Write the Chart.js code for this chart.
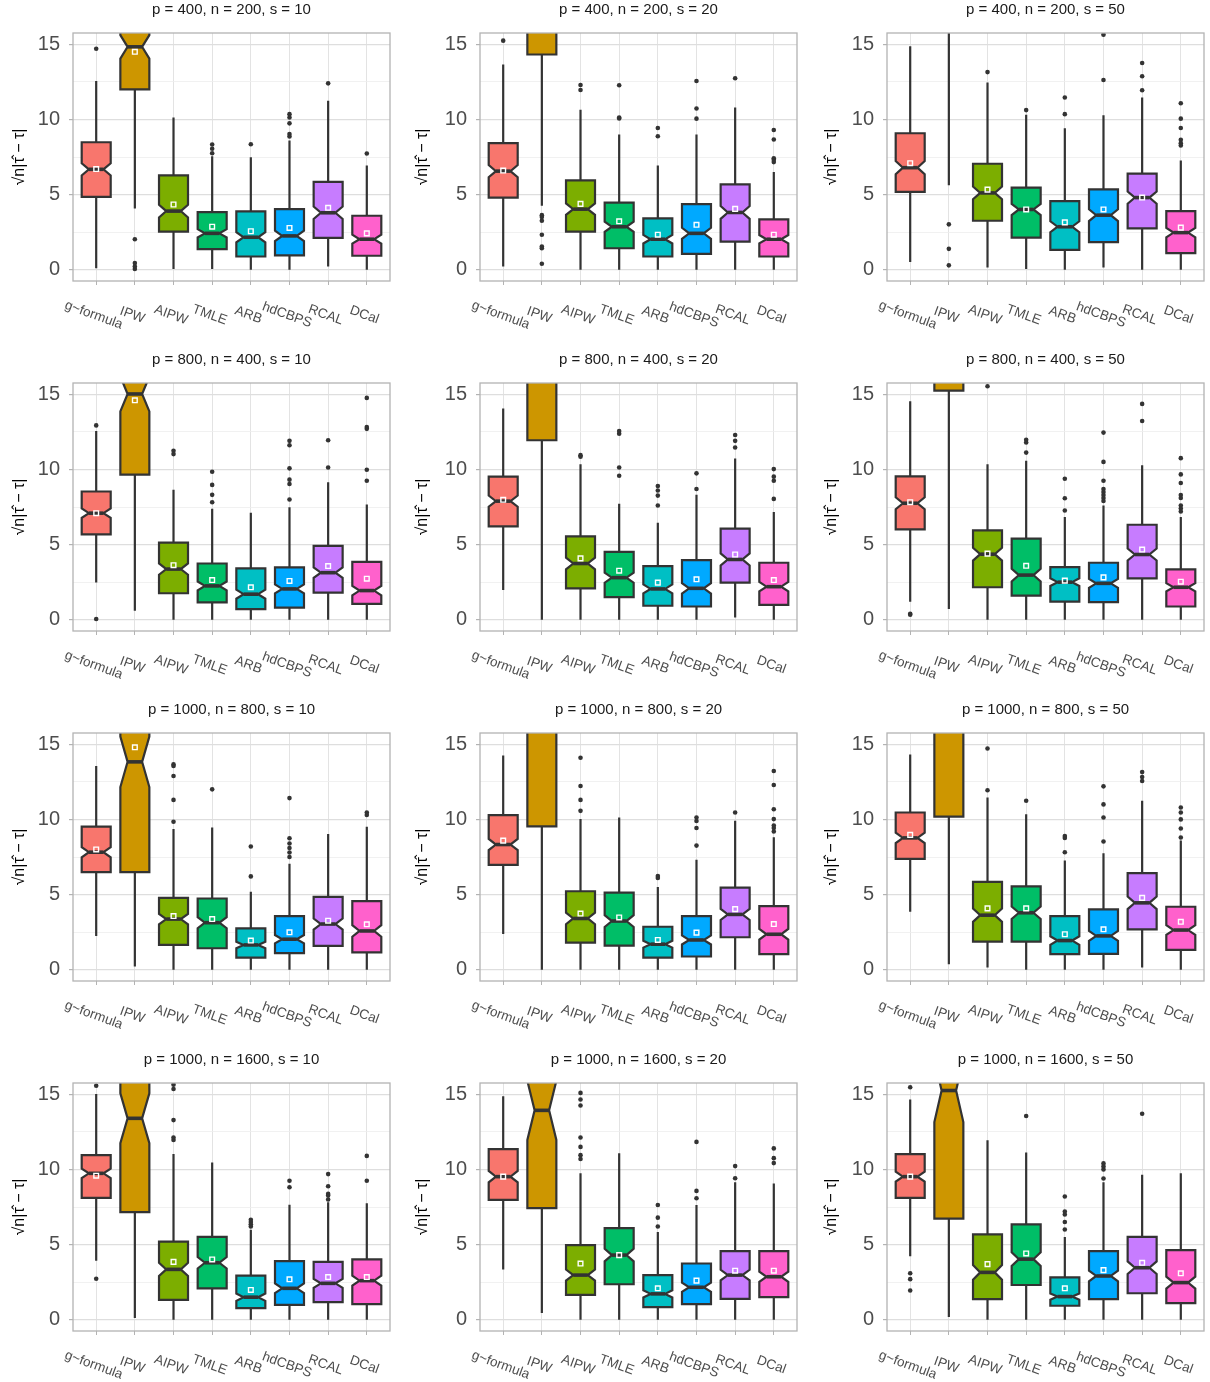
<!DOCTYPE html>
<html>
<head>
<meta charset="utf-8">
<script src="https://cdn.jsdelivr.net/npm/chart.js@4.4.0/dist/chart.umd.min.js"></script>
<style>
  body { margin: 0; background: #fff; overflow: hidden; width: 1210px; height: 1382px; position: relative; }
  canvas { position: absolute; }
</style>
</head>
<body>
<script>
// methods along the x axis of every panel
const methods = ["g~formula", "IPW", "AIPW", "TMLE", "ARB", "hdCBPS", "RCAL", "DCal"];
const colors = ["#F8766D", "#CD9600", "#7CAE00", "#00BE67", "#00BFC4", "#00A9FF", "#C77CFF", "#FF61CC"];

const panelTitles = [
  "p = 400, n = 200, s = 10", "p = 400, n = 200, s = 20", "p = 400, n = 200, s = 50",
  "p = 800, n = 400, s = 10", "p = 800, n = 400, s = 20", "p = 800, n = 400, s = 50",
  "p = 1000, n = 800, s = 10", "p = 1000, n = 800, s = 20", "p = 1000, n = 800, s = 50",
  "p = 1000, n = 1600, s = 10", "p = 1000, n = 1600, s = 20", "p = 1000, n = 1600, s = 50"
];

const yTicks = [0, 5, 10, 15];

// box statistics, one row per panel, one value per method
const whiskerLow = [
  [0.1, 4.08, 0.05, 0.05, 0, 0, 0.22, 0],
  [0.22, 4.25, 0, 0, 0, 0, 0, 0],
  [0.51, 5.62, 0.15, 0.05, 0, 0.15, 0, 0],
  [2.47, 0.59, 0, 0, 0, 0, 0, 0],
  [1.98, 0, 0, 0, 0, 0, 0.15, 0],
  [1.2, 0.71, 0, 0, 0, 0, 0, 0],
  [2.25, 0.22, 0, 0, 0, 0, 0, 0],
  [2.38, 0, 0, 0, 0, 0, 0, 0],
  [3.85, 0.37, 0.15, 0, 0, 0, 0.15, 0],
  [3.92, 0.11, 0, 0, 0, 0, 0, 0],
  [3.35, 0.44, 0, 0, 0, 0, 0, 0],
  [4.23, 0.18, 0, 0, 0, 0, 0, 0]
];
const q1 = [
  [4.85, 12.0, 2.53, 1.37, 0.88, 0.95, 2.12, 0.93],
  [4.8, 14.32, 2.53, 1.43, 0.88, 1.06, 1.87, 0.88],
  [5.18, 17, 3.26, 2.14, 1.32, 1.83, 2.75, 1.1],
  [5.68, 9.65, 1.76, 1.15, 0.71, 0.81, 1.8, 1.06],
  [6.21, 11.94, 2.09, 1.5, 0.93, 0.88, 2.47, 0.99],
  [6.01, 15.24, 2.16, 1.61, 1.21, 1.17, 2.75, 0.88],
  [6.5, 6.5, 1.65, 1.43, 0.81, 1.1, 1.59, 1.15],
  [6.98, 9.54, 1.8, 1.61, 0.81, 0.88, 2.16, 1.04],
  [7.38, 10.18, 1.87, 1.87, 1.04, 1.06, 2.69, 1.32],
  [8.11, 7.16, 1.32, 2.09, 0.77, 0.99, 1.17, 1.04],
  [7.98, 7.42, 1.65, 2.36, 0.84, 1.04, 1.39, 1.5],
  [8.11, 6.72, 1.37, 2.31, 0.93, 1.37, 1.76, 1.1]
];
const median = [
  [6.68, 14.83, 3.9, 2.42, 2.16, 2.25, 3.79, 2.03],
  [6.56, 18, 4.03, 2.86, 2.03, 2.42, 3.81, 2.03],
  [6.79, 21, 5.11, 4.01, 2.86, 3.63, 4.8, 2.47],
  [7.09, 15.02, 3.37, 2.25, 1.7, 2.05, 3.13, 1.94],
  [7.89, 19, 3.74, 2.8, 2.05, 2.09, 4.01, 2.2],
  [7.75, 20, 4.36, 2.97, 2.5, 2.42, 4.34, 2.16],
  [7.82, 13.83, 3.37, 3.13, 1.65, 2.03, 3.04, 2.58],
  [8.33, 19, 3.41, 3.24, 1.7, 1.98, 3.68, 2.36],
  [8.77, 20, 3.63, 3.79, 1.94, 2.25, 4.45, 2.64],
  [9.74, 13.4, 3.35, 3.79, 1.5, 2.09, 2.42, 2.6],
  [9.52, 13.93, 2.97, 4.3, 1.72, 2.16, 2.97, 2.86],
  [9.52, 15.25, 3.15, 4.03, 1.54, 2.91, 3.46, 2.47]
];
const q3 = [
  [8.48, 19, 6.28, 3.83, 3.88, 4.03, 5.84, 3.59],
  [8.42, 22, 5.95, 4.47, 3.41, 4.36, 5.68, 3.35],
  [9.08, 26, 7.05, 5.46, 4.56, 5.35, 6.39, 3.9],
  [8.53, 20, 5.13, 3.74, 3.41, 3.48, 4.91, 3.85],
  [9.52, 26, 5.55, 4.52, 3.57, 3.97, 6.06, 3.79],
  [9.54, 25, 5.95, 5.4, 3.5, 3.79, 6.32, 3.35],
  [9.52, 21.5, 4.78, 4.74, 2.75, 3.57, 4.85, 4.56],
  [10.29, 26, 5.22, 5.13, 2.86, 3.57, 5.46, 4.23],
  [10.46, 26, 5.84, 5.55, 3.57, 4.01, 6.43, 4.19],
  [10.95, 22, 5.2, 5.51, 2.93, 3.9, 3.85, 4.01],
  [11.35, 25, 4.96, 6.1, 2.97, 3.74, 4.56, 4.56],
  [11.02, 25.5, 5.68, 6.35, 2.82, 4.56, 5.51, 4.63]
];
const whiskerHigh = [
  [12.56, 30, 10.13, 7.55, 7.49, 8.6, 11.24, 6.94],
  [13.66, 30, 10.64, 8.99, 6.94, 8.99, 10.8, 6.5],
  [14.87, 40, 12.45, 10.31, 9.41, 10.28, 11.46, 7.27],
  [12.56, 30, 8.64, 7.38, 7.12, 7.49, 9.14, 7.67],
  [14.06, 40, 10.35, 7.71, 6.46, 8.31, 10.73, 7.16],
  [14.54, 40, 10.35, 10.57, 6.83, 7.6, 10.28, 6.83],
  [13.55, 40, 9.36, 9.47, 5.18, 7.05, 9.03, 9.52],
  [14.25, 40, 10.02, 10.13, 5.51, 7.31, 9.91, 8.81],
  [14.32, 40, 11.46, 10.35, 7.27, 7.75, 11.24, 8.59],
  [15.02, 40, 11.02, 10.46, 5.99, 7.65, 7.82, 7.75],
  [14.87, 40, 9.74, 11.08, 5.84, 7.63, 9.14, 9.07],
  [14.65, 40, 11.94, 11.13, 5.51, 9.14, 9.65, 9.74]
];
// null = mean above the visible range
const means = [
  [6.7, 14.5, 4.34, 2.86, 2.56, 2.78, 4.12, 2.42],
  [6.6, null, 4.38, 3.22, 2.33, 2.99, 4.05, 2.33],
  [7.09, null, 5.33, 4.01, 3.15, 4.01, 4.8, 2.8],
  [7.09, 14.6, 3.63, 2.64, 2.16, 2.58, 3.57, 2.73],
  [7.98, null, 4.08, 3.26, 2.47, 2.69, 4.34, 2.64],
  [7.82, null, 4.4, 3.59, 2.6, 2.82, 4.67, 2.53],
  [8.0, 14.8, 3.57, 3.37, 1.94, 2.49, 3.26, 3.02],
  [8.59, null, 3.74, 3.48, 1.98, 2.47, 4.03, 3.04],
  [8.97, null, 4.08, 4.08, 2.36, 2.69, 4.78, 3.19],
  [9.58, null, 3.85, 4.01, 1.98, 2.69, 2.84, 2.84],
  [9.52, null, 3.74, 4.3, 2.09, 2.6, 3.26, 3.26],
  [9.52, null, 3.7, 4.41, 2.09, 3.3, 3.79, 3.09]
];
const outliers = [
  [[14.7], [2.03, 0.44, 0.22, 0.05], [], [8.33, 8.05, 7.75], [8.35], [10.35, 10.13, 9.74, 9.03, 8.86], [12.4], [7.73]],
  [[15.24], [3.63, 3.5, 3.26, 2.33, 1.54, 1.43, 0.4], [12.29, 11.96], [12.27, 10.13, 10.06], [9.43, 8.88], [12.56, 10.73, 10.05], [12.74], [9.3, 8.66, 7.42, 7.31, 7.16]],
  [[], [3.02, 1.39, 0.29], [13.15], [10.62], [11.46, 10.35], [15.64, 12.62], [13.75, 12.87, 11.94], [11.08, 10.05, 9.43, 8.64, 8.42, 8.27]],
  [[12.93, 0.05], [], [11.24, 11.02], [9.85, 8.97, 8.31, 7.82], [], [11.9, 11.61, 10.07, 9.32, 9.03, 8.0], [11.94, 10.13], [14.76, 12.82, 12.7, 9.98, 9.25]],
  [[], [], [10.95, 10.84], [12.56, 12.38, 10.13, 9.58], [8.9, 8.6, 8.26, 7.6], [9.74, 8.7], [12.29, 11.9, 11.46], [10.02, 9.52, 9.25, 8.04]],
  [[0.4, 0.33], [], [15.53], [11.97, 11.79, 11.12], [9.38, 8.08, 7.27], [12.45, 10.5, 9.25, 8.7, 8.5, 8.3, 8.1, 7.9], [14.36, 13.22], [10.75, 9.67, 9.1, 8.3, 8.1, 7.6, 7.4, 7.2]],
  [[], [], [13.66, 13.55, 12.89, 11.3, 9.85], [12.0], [8.2, 6.21], [11.42, 8.75, 8.4, 8.1, 7.8, 7.5], [], [10.46, 10.3]],
  [[], [], [14.1, 12.22, 11.3, 10.57], [], [6.24, 6.1], [10.13, 9.9, 9.43, 8.26], [10.46], [13.22, 12.29, 10.68, 10.02, 9.6, 9.43, 9.2]],
  [[], [], [14.72, 11.94], [11.24], [8.9, 8.77, 7.82], [12.2, 11.0, 10.13, 8.53], [13.15, 12.82, 12.56], [10.79, 10.46, 10.0, 9.4, 8.8]],
  [[15.57, 2.73], [], [15.64, 15.35, 13.28, 12.12, 11.96], [], [6.65, 6.5, 6.35, 6.2], [9.25, 8.81], [9.69, 8.88, 8.37, 8.26, 8.0], [10.9, 9.25]],
  [[], [], [15.09, 14.65, 14.25, 12.12, 11.5, 10.95, 10.69], [], [7.63, 6.79, 6.2], [11.83, 8.57, 8.08], [10.22, 9.41], [11.4, 10.75, 10.42]],
  [[15.47, 3.09, 2.7, 1.94], [], [], [13.55], [8.2, 7.2, 7.0, 6.5, 6.0], [10.4, 10.2, 10.0, 9.4], [13.7], []]
];

// notches like ggplot: median +/- 1.58 * IQR / sqrt(n)
const nReps = 200;

const FONT = "'Liberation Sans', Arial, Helvetica, sans-serif";
const colLeft = [0, 407, 814];
const rowTop = [0, 350, 700, 1050];
const yTitlePad = [10.4, 6.4, 8.1];

// draws whiskers, notched boxes, medians, panel border and slanted x labels
const boxPlugin = {
  id: 'boxes',
  beforeDatasetsDraw(chart, args, opts) {
    const k = opts.panel;
    const { ctx, chartArea: a, scales: { x, y } } = chart;
    ctx.save();
    ctx.beginPath();
    ctx.rect(a.left, a.top, a.right - a.left, a.bottom - a.top);
    ctx.clip();
    ctx.strokeStyle = '#333333';
    ctx.lineJoin = 'miter';
    methods.forEach((m, i) => {
      const cx = x.getPixelForValue(i);
      const hw = x.getPixelForValue(i + 0.375) - cx;
      const b1 = q1[k][i], md = median[k][i], b3 = q3[k][i];
      const h = 1.58 * (b3 - b1) / Math.sqrt(nReps);

      ctx.lineWidth = 2.2;
      ctx.beginPath();
      ctx.moveTo(cx, y.getPixelForValue(whiskerLow[k][i]));
      ctx.lineTo(cx, y.getPixelForValue(b1));
      ctx.moveTo(cx, y.getPixelForValue(b3));
      ctx.lineTo(cx, y.getPixelForValue(whiskerHigh[k][i]));
      ctx.stroke();

      const yq1 = y.getPixelForValue(b1), ynl = y.getPixelForValue(md - h);
      const ym = y.getPixelForValue(md), ynu = y.getPixelForValue(md + h);
      const yq3 = y.getPixelForValue(b3);
      const l = cx - hw, r = cx + hw, ind = hw / 2;
      ctx.beginPath();
      ctx.moveTo(l, yq1); ctx.lineTo(l, ynl); ctx.lineTo(l + ind, ym); ctx.lineTo(l, ynu); ctx.lineTo(l, yq3);
      ctx.lineTo(r, yq3); ctx.lineTo(r, ynu); ctx.lineTo(r - ind, ym); ctx.lineTo(r, ynl); ctx.lineTo(r, yq1);
      ctx.closePath();
      ctx.fillStyle = colors[i];
      ctx.fill();
      ctx.stroke();

      ctx.lineWidth = 3.6;
      ctx.beginPath();
      ctx.moveTo(l + ind, ym);
      ctx.lineTo(r - ind, ym);
      ctx.stroke();
    });
    ctx.restore();
  },
  afterDraw(chart) {
    const { ctx, chartArea: a, scales: { x } } = chart;
    ctx.save();
    ctx.strokeStyle = '#B3B3B3';
    ctx.lineWidth = 1.3;
    ctx.strokeRect(a.left, a.top, a.right - a.left, a.bottom - a.top);
    ctx.fillStyle = '#4D4D4D';
    ctx.font = '13.5px ' + FONT;
    ctx.textAlign = 'center';
    ctx.textBaseline = 'middle';
    methods.forEach((m, i) => {
      ctx.save();
      ctx.translate(x.getPixelForValue(i) - 2.5, a.bottom + 34);
      ctx.rotate(20 * Math.PI / 180);
      ctx.fillText(m, 0, 0);
      ctx.restore();
    });
    ctx.restore();
  }
};

function makePanel(k) {
  const row = Math.floor(k / 3), col = k % 3;
  const canvas = document.createElement('canvas');
  canvas.width = 396;
  canvas.height = 350;
  canvas.style.left = colLeft[col] + 'px';
  canvas.style.top = rowTop[row] + 'px';
  document.body.appendChild(canvas);

  const outlierPts = [], meanPts = [];
  methods.forEach((m, i) => {
    outliers[k][i].forEach(v => outlierPts.push({ x: i, y: v }));
    if (means[k][i] !== null) meanPts.push({ x: i, y: means[k][i] });
  });

  new Chart(canvas, {
    type: 'scatter',
    data: {
      datasets: [
        { label: 'outliers', data: outlierPts, pointRadius: 2.3, pointBackgroundColor: '#333333', pointBorderWidth: 0 },
        { label: 'mean', data: meanPts, pointStyle: 'rect', pointRadius: 3.3, pointBorderColor: '#FFFFFF',
          pointBackgroundColor: 'rgba(0,0,0,0)', pointBorderWidth: 1.4 }
      ]
    },
    options: {
      responsive: false,
      animation: false,
      devicePixelRatio: 1,
      layout: { padding: { left: 0, right: 6, top: 0, bottom: 0 } },
      plugins: {
        legend: { display: false },
        tooltip: { enabled: false },
        title: {
          display: true, text: panelTitles[k], fullSize: false, color: '#1A1A1A',
          font: { size: 15, family: FONT, weight: 'normal' }, padding: { top: 1, bottom: 14 }
        },
        boxes: { panel: k }
      },
      scales: {
        x: {
          type: 'linear', min: -0.6, max: 7.6,
          afterFit(s) { s.height = 69; },
          ticks: { display: false, stepSize: 1, includeBounds: false },
          grid: { color: '#E3E3E3', lineWidth: 1, tickLength: 4, tickColor: '#B3B3B3' },
          border: { display: false }
        },
        y: {
          type: 'linear', min: -0.75, max: 15.75,
          afterFit(s) { s.width = 73; },
          ticks: {
            stepSize: 2.5, includeBounds: false, autoSkip: false, padding: 9, color: '#4D4D4D',
            font: { size: 20, family: FONT },
            callback: v => yTicks.includes(v) ? String(v) : ''
          },
          grid: {
            color: c => (c.tick && yTicks.includes(c.tick.value)) ? '#DEDEDE' : '#EEEEEE',
            lineWidth: c => (c.tick && yTicks.includes(c.tick.value)) ? 1.2 : 0.8,
            tickLength: 4,
            tickColor: c => (c.tick && yTicks.includes(c.tick.value)) ? '#B3B3B3' : 'rgba(0,0,0,0)'
          },
          border: { display: false },
          title: {
            display: true, text: '√n|τ̂ − τ|', color: '#000000',
            font: { size: 16, family: FONT }, padding: { top: yTitlePad[col], bottom: 0 }
          }
        }
      }
    },
    plugins: [boxPlugin]
  });
}

for (let k = 0; k < 12; k++) makePanel(k);
</script>
</body>
</html>
